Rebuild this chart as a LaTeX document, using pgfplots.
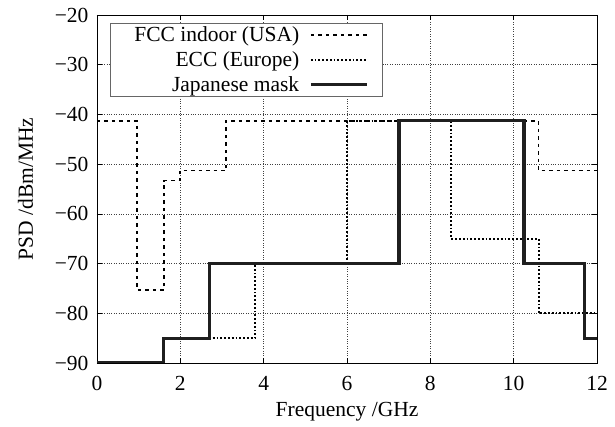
\documentclass[border=0pt]{standalone}
\usepackage{fontspec}
\setmainfont{Liberation Serif}
\usepackage{pgfplots}
\pgfplotsset{compat=1.18}
\usetikzlibrary{calc}

\newcommand{\chartfont}{\fontsize{21.5}{25}\selectfont}

\begin{document}
\begin{tikzpicture}
\begin{axis}[
  name=ax,
  scale only axis,
  width=500pt, height=348pt,
  xmin=0, xmax=12, ymin=-90, ymax=-20,
  xtick={0,2,...,12},
  ytick={-90,-80,...,-20},
  yticklabels={−90,−80,−70,−60,−50,−40,−30,−20},
  /pgf/number format/assume math mode=true,
  tick align=inside,
  tick style={black, line width=0.6pt},
  major tick length=5pt,
  axis line style={black, line width=0.9pt},
  grid=major,
  major grid style={black!75, dotted, line width=0.5pt},
  xlabel={Frequency /GHz},
  ylabel={PSD /dBm/MHz},
  tick label style={font=\chartfont},
  label style={font=\chartfont},
  yticklabel style={xshift=-5pt},
  xticklabel style={yshift=-10pt},
  xlabel style={yshift=-4pt},
  ylabel style={yshift=15pt},
  legend style={
    at={(0.026,0.976)}, anchor=north west,
    draw=black!60, line width=0.7pt,
    font=\chartfont,
    nodes={inner ysep=1pt, inner xsep=10pt},
    row sep=6.5pt, inner xsep=14pt, inner ysep=2pt,
  },
  legend cell align=right,
  legend plot pos=right,
  legend image code/.code={\draw[#1] (0pt,0pt) -- (56pt,0pt);},
]
% FCC indoor emission mask
\addplot[black, line width=1.6pt, dash pattern=on 3.5pt off 4pt] coordinates {
  (0,-41.3) (0.96,-41.3) (0.96,-75.3) (1.61,-75.3) (1.61,-53.3) (1.99,-53.3)
  (1.99,-51.3) (3.1,-51.3) (3.1,-41.3) (10.6,-41.3) (10.6,-51.3) (12,-51.3)
};
\addlegendentry{FCC indoor (USA)}
% ECC mask (Europe)
\addplot[black, line width=2.2pt, dash pattern=on 1.8pt off 2pt] coordinates {
  (0,-90) (1.6,-90) (1.6,-85) (3.8,-85) (3.8,-70) (6,-70) (6,-41.3)
  (8.5,-41.3) (8.5,-65) (10.6,-65) (10.6,-80) (12,-80)
};
\addlegendentry{ECC (Europe)}
% Japanese mask
\addplot[black!88, line width=3.2pt] coordinates {
  (0,-90) (1.6,-90) (1.6,-85) (2.7,-85) (2.7,-70) (7.25,-70) (7.25,-41.3)
  (10.25,-41.3) (10.25,-70) (11.7,-70) (11.7,-85) (12,-85)
};
\addlegendentry{Japanese mask}
\end{axis}
\pgfresetboundingbox
\path[use as bounding box] ($(ax.south west)+(-97pt,-64pt)$) rectangle ($(ax.north east)+(18pt,15pt)$);
\end{tikzpicture}
\end{document}
